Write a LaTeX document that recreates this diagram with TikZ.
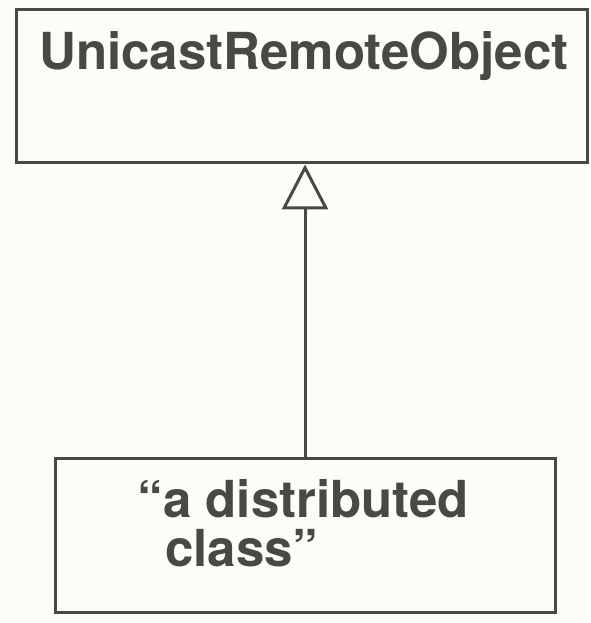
\documentclass[tikz,border=0pt]{standalone}
\usepackage{fontspec}
\setmainfont{TeX Gyre Heros}
\usetikzlibrary{arrows.meta}
\definecolor{ink}{HTML}{4A4846}
\definecolor{paper}{HTML}{FDFDF7}
\tikzset{
  classbox/.style={draw=ink, line width=3pt, rectangle, inner sep=0pt},
  label50/.style={text=ink, font=\fontsize{51}{49}\selectfont\bfseries, inner sep=0pt},
  inherit/.style={draw=ink, line width=3pt, -{Triangle[open, length=45pt, width=46pt, line width=3pt]}}
}
\begin{document}
\begin{tikzpicture}[x=1pt,y=1pt]
  \fill[paper] (0,0) rectangle (590,623);
  \useasboundingbox (0,0) rectangle (590,623);
  \node[classbox, minimum width=571pt, minimum height=153pt] (super) at (301.5,536.5) {};
  \node[label50, anchor=base west] (supername) at (39,553) {UnicastRemoteObject};
  \node[classbox, minimum width=500pt, minimum height=154pt] (sub) at (305,87) {};
  \node[label50, anchor=base west] (subline1) at (163,105) {\llap{“}a distributed};
  \node[label50, anchor=base west] (subline2) at (165,56) {class”};
  \draw[inherit] (sub.north) -- (sub.north |- super.south);
\end{tikzpicture}
\end{document}
